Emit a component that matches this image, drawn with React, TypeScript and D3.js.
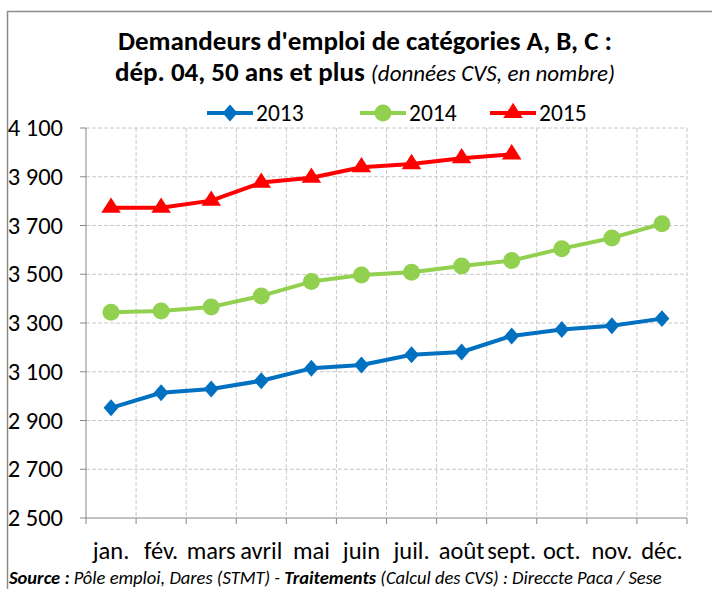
import React from "react";
import * as d3 from "d3";

const months = ["jan.", "fév.", "mars", "avril", "mai", "juin", "juil.", "août", "sept.", "oct.", "nov.", "déc."];
const v2013 = [2952, 3014, 3029, 3063, 3114, 3128, 3170, 3181, 3247, 3273, 3289, 3318];
const v2014 = [3344, 3349, 3366, 3411, 3470, 3497, 3508, 3534, 3556, 3605, 3649, 3707];
const v2015 = [3773, 3773, 3802, 3876, 3896, 3939, 3952, 3976, 3992];
const yTicks = [2500, 2700, 2900, 3100, 3300, 3500, 3700, 3900, 4100];
const seriesNames = ["2013", "2014", "2015"];
const colors = ["#0070C0", "#92D050", "#FF0000"];

const W = 712, H = 589;
const FONT = "Carlito, Calibri, Lato, 'Liberation Sans', sans-serif";

function Marker({ kind, x, y, color }: { kind: number; x: number; y: number; color: string }) {
  if (kind === 0) {
    const s = d3.symbol(d3.symbolSquare, 100)();
    return <path d={s || ""} transform={`translate(${x},${y}) scale(1.05,1.2) rotate(45)`} fill={color} />;
  }
  if (kind === 1) return <circle cx={x} cy={y} r={8.5} fill={color} />;
  const s = d3.symbol(d3.symbolTriangle, 150)();
  return <path d={s || ""} transform={`translate(${x},${y}) scale(1.05,0.95)`} fill={color} />;
}

export default function App() {
  const left = 86, right = 687, top = 128, bottom = 518;
  const x = d3.scaleBand<string>().domain(months).range([left, right]);
  const y = d3.scaleLinear().domain([2500, 4100]).range([bottom, top]);
  const cx = (m: string) => (x(m) as number) + x.bandwidth() / 2;
  const allSeries = [v2013, v2014, v2015];
  const line = d3.line<[number, number]>().x(d => d[0]).y(d => d[1]);
  const boundaries = d3.range(months.length + 1).map(i => left + i * x.bandwidth());
  const legendX = [207, 360, 490];

  return (
    <svg width={W} height={H} style={{ position: "absolute", left: 0, top: 0, fontFamily: FONT }}>
      <rect x={0} y={0} width={W} height={H} fill="#fff" />
      <path d={`M7.5,${H} V11.5 H${W}`} fill="none" stroke="#8c8c8c" strokeWidth={1.5} />
      {/* title */}
      <text x={365} y={50} textAnchor="middle" fontSize={27} fontWeight="bold" fill="#000">
        Demandeurs d'emploi de catégories A, B, C :
      </text>
      <text x={365} y={81} textAnchor="middle" fill="#000">
        <tspan fontSize={27} fontWeight="bold">dép. 04, 50 ans et plus </tspan>
        <tspan fontSize={23} fontStyle="italic">(données CVS, en nombre)</tspan>
      </text>
      {/* legend */}
      {seriesNames.map((n, i) => (
        <g key={n}>
          <line x1={legendX[i]} x2={legendX[i] + 46} y1={113} y2={113} stroke={colors[i]} strokeWidth={4} />
          <Marker kind={i} x={legendX[i] + 23} y={113} color={colors[i]} />
          <text x={legendX[i] + 49} y={121} fontSize={23.5} fill="#000">{n}</text>
        </g>
      ))}
      {/* grid */}
      {yTicks.filter(t => t !== 2500).map(t => (
        <line key={t} x1={left} x2={right} y1={y(t)} y2={y(t)} stroke="#c8c8c8" strokeDasharray="4,2" />
      ))}
      {boundaries.slice(1).map((b, i) => (
        <line key={i} x1={b} x2={b} y1={top} y2={bottom} stroke="#c8c8c8" strokeDasharray="4,2" />
      ))}
      {/* axes */}
      <line x1={left} x2={left} y1={top} y2={bottom} stroke="#868686" strokeWidth={1} />
      <line x1={left} x2={right} y1={bottom} y2={bottom} stroke="#868686" strokeWidth={1} />
      {yTicks.map(t => (
        <g key={t}>
          <line x1={left - 6} x2={left} y1={y(t)} y2={y(t)} stroke="#868686" />
          <text x={63} y={y(t) + 8} textAnchor="end" fontSize={24.5} fill="#000">
            {d3.format(",")(t).replace(",", " ")}
          </text>
        </g>
      ))}
      {boundaries.map((b, i) => (
        <line key={i} x1={b} x2={b} y1={bottom} y2={bottom + 6} stroke="#868686" />
      ))}
      {months.map(m => (
        <text key={m} x={cx(m)} y={559} textAnchor="middle" fontSize={24.5} fill="#000">{m}</text>
      ))}
      {/* series */}
      {allSeries.map((vals, i) => (
        <g key={i}>
          <path
            d={line(vals.map((v, j) => [cx(months[j]), y(v)] as [number, number])) || ""}
            fill="none" stroke={colors[i]} strokeWidth={4} strokeLinejoin="round"
          />
          {vals.map((v, j) => (
            <Marker key={j} kind={i} x={cx(months[j])} y={y(v)} color={colors[i]} />
          ))}
        </g>
      ))}
      {/* source */}
      <text x={9} y={584} fontSize={18.5} fontStyle="italic" fill="#000">
        <tspan fontWeight="bold">Source :</tspan>
        <tspan> Pôle emploi, Dares (STMT) - </tspan>
        <tspan fontWeight="bold">Traitements</tspan>
        <tspan> (Calcul des CVS) : Direccte Paca / Sese</tspan>
      </text>
    </svg>
  );
}
